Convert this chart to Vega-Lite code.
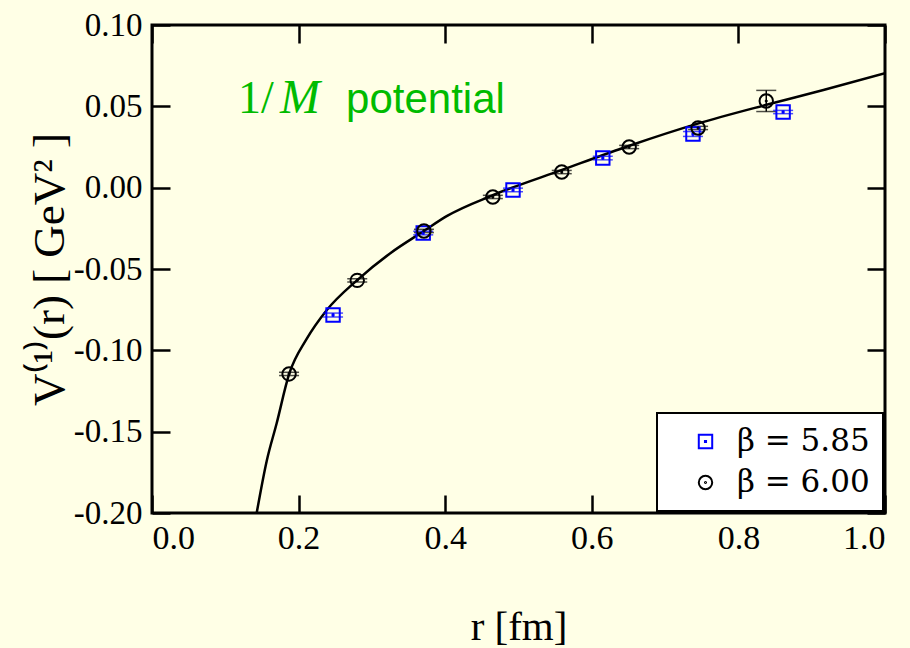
{
  "$schema": "https://vega.github.io/schema/vega-lite/v6.json",
  "width": 733,
  "height": 488,
  "autosize": {"type": "none"},
  "padding": {"left": 152, "top": 25, "right": 25, "bottom": 135},
  "background": "#FFFFE6",
  "config": {
    "font": "Liberation Serif",
    "view": {"stroke": "black", "strokeWidth": 3, "fill": "#FFFFE6"},
    "axis": {
      "domain": false,
      "grid": false,
      "tickColor": "black",
      "tickWidth": 2.5,
      "tickSize": -18,
      "labelColor": "black",
      "labelFont": "Liberation Serif",
      "titleFont": "Liberation Serif",
      "titleFontWeight": "normal",
      "titleColor": "black",
      "labelExpr": "replace(datum.label, '−', '-')"
    },
    "legend": {
      "orient": "bottom-right",
      "offset": 2,
      "title": null,
      "fillColor": "white",
      "strokeColor": "black",
      "strokeWidth": 2,
      "padding": 13,
      "labelFont": "DejaVu Serif",
      "labelFontSize": 31,
      "labelColor": "black",
      "symbolSize": 180,
      "symbolStrokeWidth": 2,
      "symbolOffset": 20,
      "labelOffset": 16,
      "rowPadding": 9
    }
  },
  "datasets": {
    "curve": [
      {"r": 0.1428, "V": -0.2},
      {"r": 0.1565, "V": -0.168},
      {"r": 0.170, "V": -0.145},
      {"r": 0.187, "V": -0.1147},
      {"r": 0.211, "V": -0.093},
      {"r": 0.238, "V": -0.0755},
      {"r": 0.280, "V": -0.0568},
      {"r": 0.3247, "V": -0.0404},
      {"r": 0.371, "V": -0.0266},
      {"r": 0.402, "V": -0.0175},
      {"r": 0.4657, "V": -0.0045},
      {"r": 0.5593, "V": 0.0109},
      {"r": 0.6512, "V": 0.0258},
      {"r": 0.7445, "V": 0.0394},
      {"r": 0.837, "V": 0.0508},
      {"r": 0.916, "V": 0.0600},
      {"r": 1.0, "V": 0.0703}
    ],
    "points": [
      {"r": 0.247, "V": -0.0783, "lo": -0.0795, "hi": -0.0771, "beta": "β = 5.85"},
      {"r": 0.370, "V": -0.0279, "lo": -0.0290, "hi": -0.0268, "beta": "β = 5.85"},
      {"r": 0.4925, "V": -0.0014, "lo": -0.0025, "hi": -0.0003, "beta": "β = 5.85"},
      {"r": 0.615, "V": 0.0182, "lo": 0.0171, "hi": 0.0193, "beta": "β = 5.85"},
      {"r": 0.738, "V": 0.0330, "lo": 0.0315, "hi": 0.0345, "beta": "β = 5.85"},
      {"r": 0.861, "V": 0.0465, "lo": 0.0455, "hi": 0.0475, "beta": "β = 5.85"},
      {"r": 0.187, "V": -0.1145, "lo": -0.1155, "hi": -0.1135, "beta": "β = 6.00"},
      {"r": 0.280, "V": -0.0570, "lo": -0.0580, "hi": -0.0560, "beta": "β = 6.00"},
      {"r": 0.371, "V": -0.0266, "lo": -0.0276, "hi": -0.0256, "beta": "β = 6.00"},
      {"r": 0.465, "V": -0.0057, "lo": -0.0067, "hi": -0.0047, "beta": "β = 6.00"},
      {"r": 0.559, "V": 0.0096, "lo": 0.0086, "hi": 0.0106, "beta": "β = 6.00"},
      {"r": 0.651, "V": 0.0250, "lo": 0.0240, "hi": 0.0260, "beta": "β = 6.00"},
      {"r": 0.745, "V": 0.0367, "lo": 0.0357, "hi": 0.0377, "beta": "β = 6.00"},
      {"r": 0.838, "V": 0.0533, "lo": 0.0468, "hi": 0.0598, "beta": "β = 6.00"}
    ]
  },
  "resolve": {
    "axis": {"x": "independent", "y": "independent"},
    "scale": {"color": "independent", "shape": "independent"}
  },
  "layer": [
    {
      "data": {"name": "curve"},
      "mark": {"type": "line", "color": "black", "strokeWidth": 2.5, "interpolate": "monotone", "clip": true},
      "encoding": {
        "x": {"field": "r", "type": "quantitative", "scale": {"domain": [0, 1], "nice": false},
          "axis": {"values": [0, 0.2, 0.4, 0.6, 0.8, 1.0], "format": ".1f", "labelFontSize": 34, "labelPadding": 26, "title": "r [fm]", "titleFontSize": 41, "titlePadding": 52}},
        "y": {"field": "V", "type": "quantitative", "scale": {"domain": [-0.2, 0.1], "nice": false, "zero": false},
          "axis": {"values": [-0.2, -0.15, -0.1, -0.05, 0, 0.05, 0.1], "format": ".2f", "labelFontSize": 33, "labelPadding": 28, "title": "V⁽¹⁾(r) [ GeV² ]", "titleFontSize": 45, "titlePadding": 1}}
      }
    },
    {
      "data": {"name": "points"},
      "mark": {"type": "rule", "strokeWidth": 1.5},
      "encoding": {
        "x": {"field": "r", "type": "quantitative", "axis": null},
        "y": {"field": "lo", "type": "quantitative", "axis": null},
        "y2": {"field": "hi"},
        "color": {"field": "beta", "type": "nominal", "scale": {"domain": ["β = 5.85", "β = 6.00"], "range": ["#0000FF", "#000000"]}, "legend": null}
      }
    },
    {
      "data": {"name": "points"},
      "mark": {"type": "tick", "orient": "horizontal", "size": 20, "thickness": 1.5},
      "encoding": {
        "x": {"field": "r", "type": "quantitative", "axis": null},
        "y": {"field": "lo", "type": "quantitative", "axis": null},
        "color": {"field": "beta", "type": "nominal", "scale": {"domain": ["β = 5.85", "β = 6.00"], "range": ["#0000FF", "#000000"]}, "legend": null}
      }
    },
    {
      "data": {"name": "points"},
      "mark": {"type": "tick", "orient": "horizontal", "size": 20, "thickness": 1.5},
      "encoding": {
        "x": {"field": "r", "type": "quantitative", "axis": null},
        "y": {"field": "hi", "type": "quantitative", "axis": null},
        "color": {"field": "beta", "type": "nominal", "scale": {"domain": ["β = 5.85", "β = 6.00"], "range": ["#0000FF", "#000000"]}, "legend": null}
      }
    },
    {
      "data": {"name": "points"},
      "mark": {"type": "point", "filled": false, "strokeWidth": 2, "size": 180, "opacity": 1},
      "encoding": {
        "x": {"field": "r", "type": "quantitative",
          "axis": {"orient": "top", "values": [0, 0.2, 0.4, 0.6, 0.8, 1.0], "labels": false, "title": null}},
        "y": {"field": "V", "type": "quantitative",
          "axis": {"orient": "right", "values": [-0.2, -0.15, -0.1, -0.05, 0, 0.05, 0.1], "labels": false, "title": null}},
        "color": {"field": "beta", "type": "nominal", "scale": {"domain": ["β = 5.85", "β = 6.00"], "range": ["#0000FF", "#000000"]}},
        "shape": {"field": "beta", "type": "nominal", "scale": {"domain": ["β = 5.85", "β = 6.00"],
          "range": ["M-1,-1L1,-1L1,1L-1,1Z M-0.08,-0.08L0.08,-0.08L0.08,0.08L-0.08,0.08Z",
                    "M-1,0A1,1 0 1,0 1,0A1,1 0 1,0 -1,0Z M-0.08,0A0.08,0.08 0 1,0 0.08,0A0.08,0.08 0 1,0 -0.08,0Z"]}}
      }
    },
    {
      "data": {"values": [{"r": 0.1173, "V": 0.0459, "label": "1/"}]},
      "mark": {"type": "text", "align": "left", "baseline": "alphabetic", "font": "Liberation Serif", "fontSize": 46, "color": "#00BB00"},
      "encoding": {
        "x": {"field": "r", "type": "quantitative", "axis": null},
        "y": {"field": "V", "type": "quantitative", "axis": null},
        "text": {"field": "label"}
      }
    },
    {
      "data": {"values": [{"r": 0.1746, "V": 0.0459, "label": "M"}]},
      "mark": {"type": "text", "align": "left", "baseline": "alphabetic", "font": "Liberation Serif", "fontStyle": "italic", "fontSize": 48, "color": "#00BB00"},
      "encoding": {
        "x": {"field": "r", "type": "quantitative", "axis": null},
        "y": {"field": "V", "type": "quantitative", "axis": null},
        "text": {"field": "label"}
      }
    },
    {
      "data": {"values": [{"r": 0.2647, "V": 0.0459, "label": "potential"}]},
      "mark": {"type": "text", "align": "left", "baseline": "alphabetic", "font": "Liberation Sans", "fontSize": 42, "color": "#00BB00"},
      "encoding": {
        "x": {"field": "r", "type": "quantitative", "axis": null},
        "y": {"field": "V", "type": "quantitative", "axis": null},
        "text": {"field": "label"}
      }
    }
  ]
}
